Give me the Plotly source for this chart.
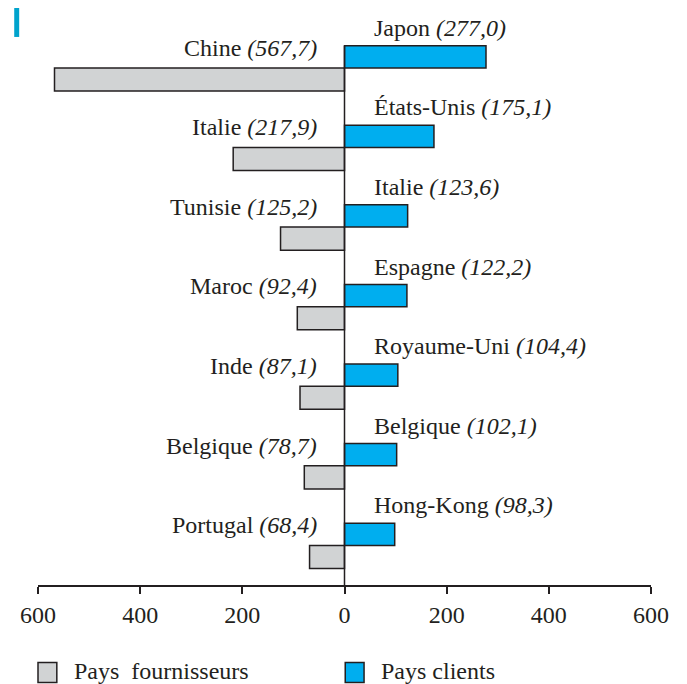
import plotly.graph_objects as go

# Data
fournisseurs = ["Chine", "Italie", "Tunisie", "Maroc", "Inde", "Belgique", "Portugal"]
fournisseurs_val = [567.7, 217.9, 125.2, 92.4, 87.1, 78.7, 68.4]
clients = ["Japon", "États-Unis", "Italie", "Espagne", "Royaume-Uni", "Belgique", "Hong-Kong"]
clients_val = [277.0, 175.1, 123.6, 122.2, 104.4, 102.1, 98.3]
tick_vals = [-600, -400, -200, 0, 200, 400, 600]
tick_text = ["600", "400", "200", "0", "200", "400", "600"]
legend_labels = ["Pays  fournisseurs", "Pays clients"]

GRAY = "#D1D3D4"
BLUE = "#00AEEF"
INK = "#231F20"
FONT = "Liberation Serif"

def fmt(v):
    return f"{v:.1f}".replace(".", ",")

slots = list(range(len(fournisseurs)))

fig = go.Figure()
fig.add_trace(go.Bar(
    y=slots, x=[-v for v in fournisseurs_val], orientation="h",
    width=0.29, offset=0, marker=dict(color=GRAY, line=dict(color=INK, width=1.5)),
    name=legend_labels[0], hoverinfo="skip", showlegend=False))
fig.add_trace(go.Bar(
    y=slots, x=clients_val, orientation="h",
    width=0.28, offset=-0.28, marker=dict(color=BLUE, line=dict(color=INK, width=1.5)),
    name=legend_labels[1], hoverinfo="skip", showlegend=False))

annotations = []
for i, (n, v) in enumerate(zip(fournisseurs, fournisseurs_val)):
    annotations.append(dict(x=-50, y=i - 0.255, xref="x", yref="y", xanchor="right", yanchor="middle",
                            text=f"{n} <i>({fmt(v)})</i>", showarrow=False,
                            font=dict(family=FONT, size=24, color=INK)))
for i, (n, v) in enumerate(zip(clients, clients_val)):
    annotations.append(dict(x=53.5, y=i - 0.505, xref="x", yref="y", xanchor="left", yanchor="middle",
                            text=f"{n} <i>({fmt(v)})</i>", showarrow=False,
                            font=dict(family=FONT, size=24, color=INK)))

# custom legend (paper coords relative to plot area)
leg_x = [0.0, 0.5012]
leg_fill = [GRAY, BLUE]
shapes = [
    dict(type="line", xref="x", yref="y", x0=0, x1=0, y0=-0.28, y1=6.497,
         line=dict(color=INK, width=1.5), layer="above"),
    dict(type="rect", xref="paper", yref="paper", x0=-0.0388, x1=-0.0307, y0=0.970, y1=1.0212,
         fillcolor="#00A3CC", line=dict(width=0)),
]
for lx, col, lab in zip(leg_x, leg_fill, legend_labels):
    shapes.append(dict(type="rect", xref="paper", yref="paper", x0=lx, x1=lx + 0.0307,
                       y0=-0.137, y1=-0.1724, fillcolor=col, line=dict(color=INK, width=1.5)))
    annotations.append(dict(x=lx + 0.0555, y=-0.152, xref="paper", yref="paper", xanchor="left",
                            yanchor="middle", text=lab, showarrow=False,
                            font=dict(family=FONT, size=24, color=INK)))

fig.update_layout(
    width=679, height=676,
    margin=dict(l=24, r=36, t=12, b=98.5),
    paper_bgcolor="white", plot_bgcolor="white",
    barmode="overlay",
    font=dict(family=FONT, size=24, color=INK),
    xaxis=dict(range=[-600, 600], tickvals=tick_vals, ticktext=tick_text,
               showgrid=False, zeroline=False, showline=True, linecolor=INK, linewidth=1.5,
               ticks="outside", ticklen=7, tickwidth=1.5, tickcolor=INK,
               tickfont=dict(family=FONT, size=24, color=INK)),
    yaxis=dict(range=[6.497, -0.6025], showgrid=False, zeroline=False, showline=False,
               showticklabels=False, ticks=""),
    showlegend=False,
    annotations=annotations,
    shapes=shapes,
)

fig.write_html("out.html")
